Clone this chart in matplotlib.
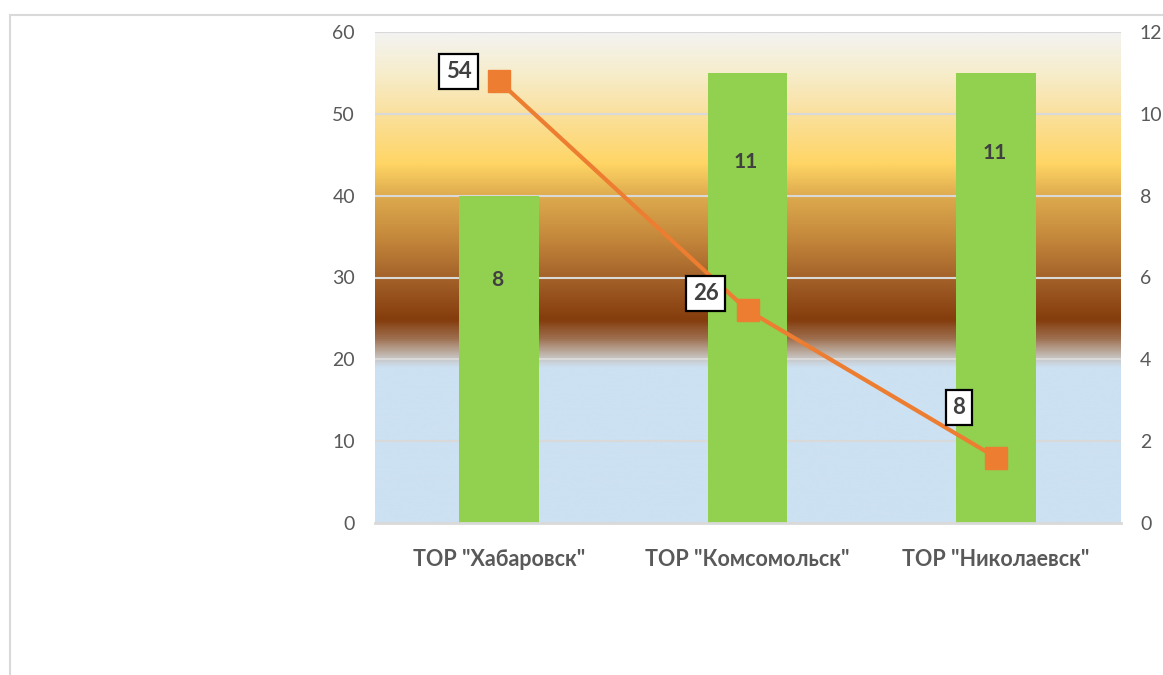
import numpy as np
import matplotlib
matplotlib.use("Agg")
import matplotlib.pyplot as plt
from matplotlib.colors import LinearSegmentedColormap
from matplotlib.patches import Rectangle

# ---- data ----
categories = ['ТОР "Хабаровск"', 'ТОР "Комсомольск"', 'ТОР "Николаевск"']
bar_values = [8, 11, 11]          # right axis
line_values = [54, 26, 8]         # left axis
left_ticks = [0, 10, 20, 30, 40, 50, 60]
right_ticks = [0, 2, 4, 6, 8, 10, 12]

plt.rcParams['font.family'] = ['Lato', 'DejaVu Sans']

fig = plt.figure(figsize=(11.63, 6.75), dpi=100)
fig.patches.append(Rectangle((9.5 / 1163, -0.1), 1.2, (675 - 15) / 675 + 0.1,
                             transform=fig.transFigure, fill=False,
                             edgecolor='#D9D9D9', linewidth=1.5, zorder=0))

pos = [374.5 / 1163, (675 - 523) / 675, 746 / 1163, (523 - 32) / 675]
ax = fig.add_axes(pos)
ax2 = ax.twinx()
ax.set_zorder(2)
ax2.set_zorder(1)
ax.patch.set_visible(False)

x = np.arange(len(categories))

# ---- gradient background (on ax2, bottom layer) ----
stops = [
    (0.0, '#CCE1F2'),
    (19.0 / 60, '#CCE1F2'),
    (19.6 / 60, '#C9D0D6'),
    (20.5 / 60, '#C2B8B0'),
    (22.5 / 60, '#9E7050'),
    (24.8 / 60, '#843C0C'),
    (30.0 / 60, '#A4622A'),
    (35.0 / 60, '#C5893C'),
    (40.0 / 60, '#DDAA4E'),
    (44.0 / 60, '#FFD565'),
    (50.0 / 60, '#FAE09C'),
    (55.0 / 60, '#F7EDCB'),
    (1.0, '#F3F3F1'),
]
cmap = LinearSegmentedColormap.from_list('bg', stops)
grad = np.linspace(0, 1, 800).reshape(-1, 1)
ax2.imshow(grad, aspect='auto', cmap=cmap, origin='lower',
           extent=[-0.5, len(categories) - 0.5, 0, 12], zorder=0)

ax2.set_ylim(0, 12)
ax2.set_yticks(right_ticks)
for t in right_ticks:
    ax2.axhline(t, color='#D9D9D9', linewidth=1.5, zorder=1)

bars = ax2.bar(x, bar_values, width=0.32, color='#92D050', zorder=2)
bar_label_off = [-61, -64, -58]
for xi, v, off in zip(x, bar_values, bar_label_off):
    ax2.annotate(str(v), (xi, v), xytext=(-1, off), textcoords='offset points',
                 ha='center', va='center', fontsize=15, fontweight='bold',
                 color='#404040', zorder=3)

# ---- line (on ax, top layer) ----
ax.set_ylim(0, 60)
ax.set_xlim(-0.5, len(categories) - 0.5)
ax2.set_xlim(-0.5, len(categories) - 0.5)
ax.set_yticks(left_ticks)
ax.plot(x, line_values, color='#ED7D31', linewidth=3.0, marker='s',
        markersize=16, markerfacecolor='#ED7D31', markeredgecolor='#ED7D31',
        zorder=5, clip_on=False)
line_label_off = [(-29, 7), (-30, 12), (-27, 36)]
for xi, v, (dx, dy) in zip(x, line_values, line_label_off):
    ax.annotate(str(v), (xi, v), xytext=(dx, dy), textcoords='offset points',
                ha='center', va='center', fontsize=16, fontweight='bold',
                color='#404040', zorder=6,
                bbox=dict(boxstyle='square,pad=0.3', facecolor='white',
                          edgecolor='black', linewidth=1.6))

ax.set_xticks(x)
ax.set_xticklabels(categories, fontsize=15.5, fontweight='bold', color='#595959')
ax.tick_params(axis='x', length=0, pad=19)
ax.tick_params(axis='y', length=0, pad=14, labelsize=14, labelcolor='#595959')
ax2.tick_params(axis='y', length=0, pad=14, labelsize=14, labelcolor='#595959')
ax2.tick_params(axis='x', length=0)

for a in (ax, ax2):
    for s in ('top', 'left', 'right', 'bottom'):
        a.spines[s].set_visible(False)
ax.spines['bottom'].set_visible(True)
ax.spines['bottom'].set_color('#D9D9D9')
ax.spines['bottom'].set_linewidth(2)

fig.savefig('out.png', dpi=100)
